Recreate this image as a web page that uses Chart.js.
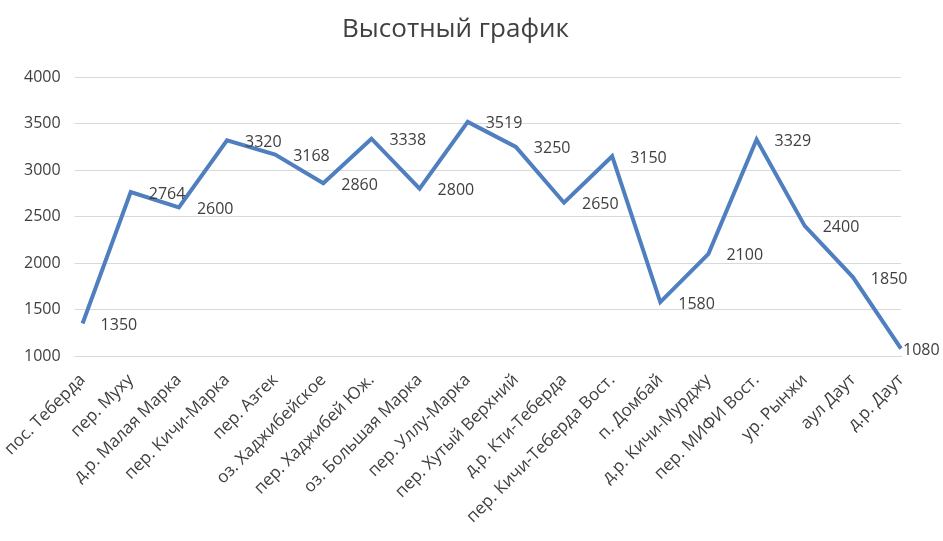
<!DOCTYPE html>
<html><head><meta charset="utf-8">
<script src="https://cdn.jsdelivr.net/npm/chart.js@4"></script>
<style>body{margin:0;background:#fff}#wrap{width:943px;height:541px}</style>
</head><body><div id="wrap"><canvas id="c"></canvas></div>
<script>
const categories = ['пос. Теберда','пер. Муху','д.р. Малая Марка','пер. Кичи-Марка','пер. Азгек','оз. Хаджибейское','пер. Хаджибей Юж.','оз. Большая Марка','пер. Уллу-Марка','пер. Хутый Верхний','д.р. Кти-Теберда','пер. Кичи-Теберда Вост.','п. Домбай','д.р. Кичи-Мурджу','пер. МИФИ Вост.','ур. Рынжи','аул Даут','д.р. Даут'];
const heights = [1350,2764,2600,3320,3168,2860,3338,2800,3519,3250,2650,3150,1580,2100,3329,2400,1850,1080];

// подписи значений справа от точек
const valueLabels = {
    id: 'valueLabels',
    afterDatasetsDraw(chart) {
        const ctx = chart.ctx;
        const meta = chart.getDatasetMeta(0);
        ctx.save();
        ctx.font = '16px "Open Sans", sans-serif';
        ctx.fillStyle = '#404040';
        ctx.textAlign = 'left';
        ctx.textBaseline = 'middle';
        meta.data.forEach((pt, i) => {
            const dx = i === heights.length - 1 ? 2 : 18;
            ctx.fillText(String(heights[i]), pt.x + dx, pt.y + 2);
        });
        ctx.restore();
    }
};

new Chart(document.getElementById('c'), {
    type: 'line',
    data: {
        labels: categories,
        datasets: [{
            data: heights,
            borderColor: '#4f7fbf',
            borderWidth: 4,
            pointRadius: 0,
            tension: 0
        }]
    },
    plugins: [valueLabels],
    options: {
        responsive: true,
        maintainAspectRatio: false,
        animation: false,
        layout: { padding: { left: 10, right: 42, top: 10, bottom: 8 } },
        plugins: {
            legend: { display: false },
            tooltip: { enabled: false },
            title: {
                display: true,
                text: 'Высотный график',
                color: '#404040',
                font: { size: 26, family: '"Open Sans", sans-serif', weight: 'normal' },
                padding: { top: 4, bottom: 32 }
            }
        },
        scales: {
            x: {
                grid: { display: false },
                border: { color: '#d9d9d9' },
                ticks: {
                    color: '#404040',
                    padding: 6,
                    font: { size: 17, family: '"Open Sans", sans-serif' },
                    maxRotation: 45, minRotation: 45, autoSkip: false
                }
            },
            y: {
                min: 1000, max: 4000,
                grid: { color: '#d9d9d9' },
                border: { display: false },
                ticks: {
                    stepSize: 500,
                    color: '#404040',
                    padding: 14,
                    callback: v => String(v),
                    font: { size: 16, family: '"Open Sans", sans-serif' }
                }
            }
        }
    }
});
</script></body></html>
